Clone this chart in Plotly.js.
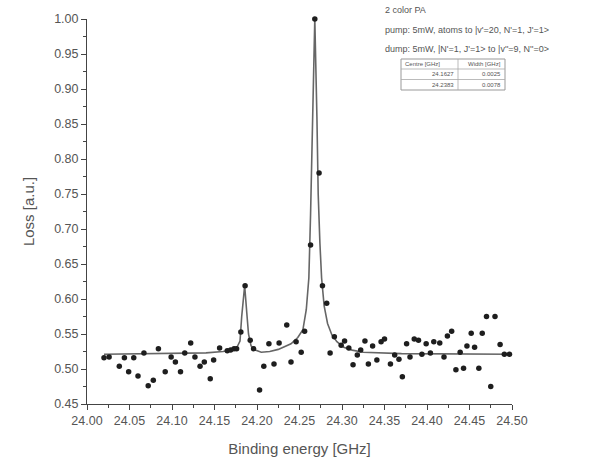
<!DOCTYPE html>
<html>
<head>
<meta charset="utf-8">
<script src="https://cdn.plot.ly/plotly-3.0.1.min.js"></script>
<style>html,body{margin:0;padding:0;background:#fff;}#chart{width:595px;height:461px;}</style>
</head>
<body>
<div id="chart"></div>
<script>
// Measured data points (binding energy in GHz, loss in a.u.)
const energy = [24.020,24.026,24.038,24.044,24.049,24.055,24.060,24.067,24.072,24.078,
  24.084,24.092,24.099,24.104,24.110,24.115,24.122,24.127,24.133,24.138,
  24.145,24.149,24.156,24.165,24.169,24.173,24.176,24.181,24.186,24.192,
  24.196,24.203,24.208,24.214,24.220,24.226,24.235,24.240,24.246,24.252,
  24.256,24.263,24.268,24.273,24.277,24.282,24.286,24.291,24.299,24.303,
  24.308,24.313,24.318,24.322,24.327,24.331,24.336,24.341,24.346,24.350,
  24.357,24.362,24.367,24.371,24.376,24.380,24.385,24.390,24.394,24.399,
  24.404,24.408,24.415,24.420,24.424,24.429,24.434,24.439,24.443,24.447,
  24.452,24.456,24.461,24.465,24.470,24.475,24.480,24.486,24.491,24.497];
const loss = [0.516,0.517,0.504,0.516,0.496,0.516,0.490,0.523,0.476,0.484,
  0.529,0.496,0.517,0.510,0.496,0.523,0.537,0.517,0.504,0.510,
  0.486,0.513,0.530,0.526,0.527,0.529,0.529,0.553,0.619,0.541,
  0.529,0.470,0.504,0.536,0.507,0.537,0.563,0.510,0.539,0.524,
  0.554,0.677,1.000,0.780,0.619,0.594,0.523,0.546,0.534,0.540,
  0.530,0.506,0.520,0.527,0.540,0.507,0.533,0.513,0.539,0.543,
  0.507,0.520,0.514,0.489,0.536,0.517,0.543,0.541,0.521,0.536,
  0.523,0.539,0.537,0.517,0.547,0.554,0.499,0.524,0.501,0.533,
  0.551,0.531,0.501,0.551,0.575,0.475,0.575,0.535,0.521,0.521];

// Fit curve
const fitX = [24.020,24.100,24.140,24.160,24.170,24.176,24.180,24.182,24.1855,24.188,
  24.190,24.193,24.198,24.205,24.215,24.225,24.240,24.248,24.254,24.258,
  24.261,24.263,24.2655,24.268,24.2705,24.272,24.274,24.276,24.279,24.283,
  24.288,24.294,24.302,24.312,24.325,24.370,24.500];
const fitY = [0.521,0.522,0.523,0.525,0.527,0.530,0.540,0.575,0.619,0.580,
  0.550,0.533,0.527,0.524,0.525,0.528,0.536,0.545,0.556,0.585,
  0.630,0.720,0.860,1.000,0.860,0.750,0.680,0.630,0.590,0.565,
  0.549,0.539,0.531,0.527,0.524,0.522,0.521];

const xTickVals = [24.00,24.05,24.10,24.15,24.20,24.25,24.30,24.35,24.40,24.45,24.50];
const yTickVals = [0.45,0.50,0.55,0.60,0.65,0.70,0.75,0.80,0.85,0.90,0.95,1.00];

const noteLines = ["2 color PA",
  "pump: 5mW, atoms to |v'=20, N'=1, J'=1>",
  "dump: 5mW, |N'=1, J'=1> to |v''=9, N''=0>"];
const tableHeaders = ["Centre [GHz]","Width [GHz]"];
const centres = ["24.1627","24.2383"];
const widths = ["0.0025","0.0078"];

// plot area in pixels
const L = 87, R = 512, T = 19, B = 404;
const px = x => (x - L) / (R - L);
const py = y => (B - y) / (B - T);

const annotations = [];
const noteY = [10, 30, 49];
noteLines.forEach((t, i) => annotations.push({
  xref:'paper', yref:'paper', x: px(383), y: py(noteY[i]), xanchor:'left', yanchor:'middle',
  text: t, showarrow:false, font:{family:'Liberation Sans, Arial, sans-serif', size:9, color:'#555'}
}));
// table
const tL = 401, tR = 505, tT = 59, tB = 90, tMid = 458, r1 = 69, r2 = 79.5;
const tf = {family:'Liberation Sans, Arial, sans-serif', size:6, color:'#555'};
annotations.push({xref:'paper', yref:'paper', x:px(tL+2), y:py((tT+r1)/2), xanchor:'left', yanchor:'middle', text:tableHeaders[0], showarrow:false, font:tf});
annotations.push({xref:'paper', yref:'paper', x:px(tR-2), y:py((tT+r1)/2), xanchor:'right', yanchor:'middle', text:tableHeaders[1], showarrow:false, font:tf});
const rowMid = [(r1+r2)/2, (r2+tB)/2];
centres.forEach((c, i) => {
  annotations.push({xref:'paper', yref:'paper', x:px(tMid-2), y:py(rowMid[i]), xanchor:'right', yanchor:'middle', text:c, showarrow:false, font:tf});
  annotations.push({xref:'paper', yref:'paper', x:px(tR-2), y:py(rowMid[i]), xanchor:'right', yanchor:'middle', text:widths[i], showarrow:false, font:tf});
});
const lineStyle = {color:'#aaa', width:0.8};
const shapes = [
  {type:'rect', xref:'paper', yref:'paper', x0:px(tL), x1:px(tR), y0:py(tB), y1:py(tT), line:{color:'#999', width:1}},
  {type:'line', xref:'paper', yref:'paper', x0:px(tL), x1:px(tR), y0:py(r1), y1:py(r1), line:lineStyle},
  {type:'line', xref:'paper', yref:'paper', x0:px(tL), x1:px(tR), y0:py(r2), y1:py(r2), line:lineStyle},
  {type:'line', xref:'paper', yref:'paper', x0:px(tMid), x1:px(tMid), y0:py(tB), y1:py(tT), line:lineStyle}
];

const traces = [
  {x: fitX, y: fitY, type:'scatter', mode:'lines', line:{color:'#666', width:1.6}, hoverinfo:'skip', cliponaxis:false},
  {x: energy, y: loss, type:'scatter', mode:'markers', marker:{color:'#1e1e1e', size:5.5}, cliponaxis:false}
];

const tickFont = {family:'Liberation Sans, Arial, sans-serif', size:12.5, color:'#555'};
const titleFont = {family:'Liberation Sans, Arial, sans-serif', size:15, color:'#555'};

const layout = {
  width:595, height:461,
  margin:{l:L, r:595-R, t:T, b:461-B, pad:0},
  paper_bgcolor:'#fff', plot_bgcolor:'#fff',
  showlegend:false,
  xaxis:{range:[24.00,24.50], tickvals:xTickVals, ticktext:xTickVals.map(v=>v.toFixed(2)),
    ticks:'outside', ticklen:5, tickwidth:1, tickcolor:'#444', showline:true, linecolor:'#444', linewidth:1,
    showgrid:false, zeroline:false, tickfont:tickFont,
    minor:{dtick:0.025, tick0:24.0, ticks:'outside', ticklen:3, tickcolor:'#444', showgrid:false},
    title:{text:'Binding energy [GHz]', font:titleFont, standoff:16}},
  yaxis:{range:[0.45,1.00], tickvals:yTickVals, ticktext:yTickVals.map(v=>v.toFixed(2)),
    ticks:'outside', ticklen:5, tickwidth:1, tickcolor:'#444', showline:true, linecolor:'#444', linewidth:1,
    showgrid:false, zeroline:false, tickfont:tickFont,
    minor:{dtick:0.025, tick0:0.45, ticks:'outside', ticklen:3, tickcolor:'#444', showgrid:false},
    title:{text:'Loss [a.u.]', font:titleFont, standoff:15}},
  annotations: annotations,
  shapes: shapes
};
Plotly.newPlot('chart', traces, layout, {staticPlot:true, displayModeBar:false});
</script>
</body>
</html>
